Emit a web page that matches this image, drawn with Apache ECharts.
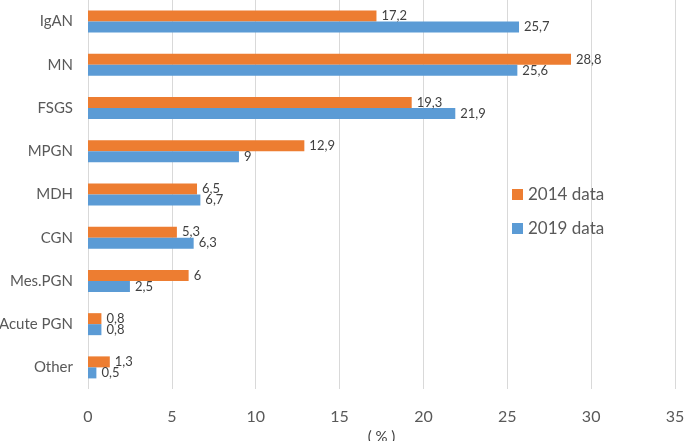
<!DOCTYPE html>
<html><head><meta charset="utf-8">
<script src="https://cdn.jsdelivr.net/npm/echarts@6/dist/echarts.min.js"></script>
<style>html,body{margin:0;padding:0;background:#fff}#c{width:685px;height:441px}</style>
</head><body><div id="c"></div>
<script>
const categories = ['IgAN','MN','FSGS','MPGN','MDH','CGN','Mes.PGN','Acute PGN','Other'];
const data2014 = [17.2, 28.8, 19.3, 12.9, 6.5, 5.3, 6, 0.8, 1.3];
const data2019 = [25.7, 25.6, 21.9, 9, 6.7, 6.3, 2.5, 0.8, 0.5];
const xTicks = [0,5,10,15,20,25,30,35];

const font = 'Lato, "Open Sans", sans-serif';
const fmt = p => String(p.value).replace('.', ',');
const chart = echarts.init(document.getElementById('c'));
chart.setOption({
  animation: false,
  textStyle: {fontFamily: font},
  grid: {left: 88, right: 10, top: 0, bottom: 52, containLabel: false, outerBoundsMode: 'none'},
  legend: {
    orient: 'vertical', left: 507, top: 181, itemGap: 17,
    itemWidth: 11, itemHeight: 11, icon: 'rect',
    textStyle: {fontSize: 17, color: '#595959', fontFamily: font},
    data: ['2014 data', '2019 data']
  },
  xAxis: {
    type: 'value', min: xTicks[0], max: xTicks[xTicks.length-1], interval: 5,
    axisLine: {show: false}, axisTick: {show: false},
    axisLabel: {fontSize: 16, color: '#595959', margin: 20, fontFamily: font},
    splitLine: {show: true, lineStyle: {color: '#d9d9d9', width: 1}},
    name: '( % )', nameLocation: 'middle', nameGap: 40,
    nameTextStyle: {fontSize: 15, color: '#404040', fontFamily: font}
  },
  yAxis: {
    type: 'category', data: categories, inverse: true,
    axisLine: {show: false}, axisTick: {show: false},
    axisLabel: {fontSize: 15, color: '#595959', margin: 15, fontFamily: font}
  },
  series: [
    {name: '2014 data', type: 'bar', data: data2014, barWidth: 11, barGap: '0%',
     itemStyle: {color: '#ED7D31'},
     label: {show: true, position: 'right', distance: 5, formatter: fmt, fontSize: 13, color: '#404040', fontFamily: font}},
    {name: '2019 data', type: 'bar', data: data2019, barWidth: 11, barGap: '0%',
     itemStyle: {color: '#5B9BD5'},
     label: {show: true, position: 'right', distance: 5, formatter: fmt, fontSize: 13, color: '#404040', fontFamily: font}}
  ]
});
</script></body></html>
